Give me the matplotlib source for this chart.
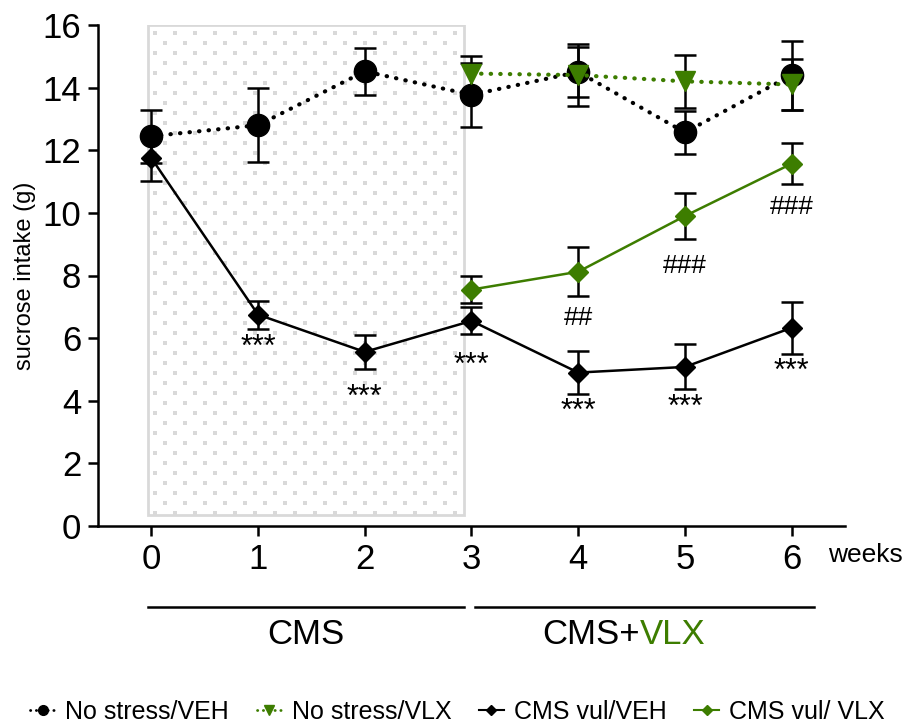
import matplotlib
matplotlib.use("Agg")
import matplotlib.pyplot as plt
from matplotlib.patches import Rectangle
from matplotlib.lines import Line2D
import numpy as np

plt.rcParams['font.family'] = ['Liberation Sans', 'DejaVu Sans']

GREEN = '#3d7d00'

weeks = [0, 1, 2, 3, 4, 5, 6]
weeks_vlx = [3, 4, 5, 6]

# No stress / VEH
ns_veh = [12.45, 12.8, 14.52, 13.77, 14.5, 12.57, 14.4]
ns_veh_sem = [0.85, 1.18, 0.76, 1.02, 0.8, 0.68, 1.1]
# No stress / VLX
ns_vlx = [14.45, 14.4, 14.2, 14.1]
ns_vlx_sem = [0.55, 1.0, 0.85, 0.8]
# CMS vulnerable / VEH
cms_veh = [11.75, 6.75, 5.56, 6.55, 4.9, 5.08, 6.33]
cms_veh_sem = [0.73, 0.45, 0.55, 0.43, 0.68, 0.72, 0.83]
# CMS vulnerable / VLX
cms_vlx = [7.55, 8.12, 9.9, 11.57]
cms_vlx_sem = [0.42, 0.78, 0.75, 0.65]

# significance marks
stars = [(1, 5.7), (2, 4.1), (3, 5.1), (4, 3.65), (5, 3.77), (6, 4.92)]
hashes = [(4, 6.65, '##'), (5, 8.3, '###'), (6, 10.2, '###')]

fig = plt.figure(figsize=(9.15, 7.24), dpi=100)
ax = fig.add_axes([98 / 915, 1 - 526 / 724, (845 - 98) / 915, (526 - 25) / 724])
ax.set_xlim(-0.5, 6.5)
ax.set_ylim(0, 16)

# CMS period box with dotted fill
box = Rectangle((-0.03, 0.35), 2.96, 15.65, facecolor='white', edgecolor='#d9d9d9',
                lw=2, zorder=0)
ax.add_patch(box)
# grid of small squares (20 px apart, rows 10 px apart, staggered)
x0, y0 = ax.transData.transform((-0.03, 0.35))
x1, y1 = ax.transData.transform((2.93, 16))
pts = []
for i, py in enumerate(np.arange(y1 - 8, y0, -10)):
    off = 0 if i % 2 == 0 else 10
    for px in np.arange(x0 + 7 + off, x1 - 3, 20):
        pts.append((px, py))
pts = ax.transData.inverted().transform(np.array(pts))
ax.scatter(pts[:, 0], pts[:, 1], marker='s', s=11, color='#d9d9d9', lw=0, zorder=0.5)

eb = dict(ecolor='black', elinewidth=1.8, capsize=8, capthick=1.8)

ax.errorbar(weeks, ns_veh, yerr=ns_veh_sem, color='black', ls=(0, (0.1, 2.2)), lw=3,
            dash_capstyle='round', marker='o', ms=16, mfc='black', mec='black', zorder=3, **eb)
ax.errorbar(weeks_vlx, ns_vlx, yerr=ns_vlx_sem, color=GREEN, ls=(0, (0.1, 2.2)), lw=3,
            dash_capstyle='round', marker='v', ms=15, mfc=GREEN, mec=GREEN, zorder=4, **eb)
ax.errorbar(weeks, cms_veh, yerr=cms_veh_sem, color='black', ls='-', lw=1.8,
            marker='D', ms=10, mfc='black', mec='black', zorder=3, **eb)
ax.errorbar(weeks_vlx, cms_vlx, yerr=cms_vlx_sem, color=GREEN, ls='-', lw=1.8,
            marker='D', ms=10, mfc=GREEN, mec=GREEN, zorder=4, **eb)

for x, y in stars:
    ax.text(x, y, '***', ha='center', va='center', fontsize=22)
for x, y, t in hashes:
    ax.text(x, y, t, ha='center', va='center', fontsize=19)

ax.set_xticks(weeks)
ax.set_yticks(np.arange(0, 17, 2))
ax.tick_params(labelsize=25, width=1.8, length=7, pad=5)
ax.spines['top'].set_visible(False)
ax.spines['right'].set_visible(False)
ax.spines['left'].set_linewidth(1.8)
ax.spines['bottom'].set_linewidth(1.8)
ax.set_ylabel('sucrose intake (g)', fontsize=17, labelpad=5)

ax.text(6.34, -0.93, 'weeks', fontsize=19, va='center', ha='left')

# treatment bars under the axis
ax.plot([-0.03, 2.93], [-2.59, -2.59], color='black', lw=1.8, clip_on=False)
ax.plot([3.03, 6.21], [-2.59, -2.59], color='black', lw=1.8, clip_on=False)
ax.text(1.45, -3.45, 'CMS', fontsize=25, ha='center', va='center')
ax.text(4.58, -3.45, 'CMS+', fontsize=25, ha='right', va='center')
ax.text(4.58, -3.45, 'VLX', fontsize=25, ha='left', va='center', color=GREEN)

handles = [
    Line2D([], [], color='black', ls=(0, (0.1, 2)), lw=2, dash_capstyle='round', marker='o', ms=7),
    Line2D([], [], color=GREEN, ls=(0, (0.1, 2)), lw=2, dash_capstyle='round', marker='v', ms=7),
    Line2D([], [], color='black', ls='-', lw=1.5, marker='D', ms=5),
    Line2D([], [], color=GREEN, ls='-', lw=1.5, marker='D', ms=5),
]
labels = ['No stress/VEH', 'No stress/VLX', 'CMS vul/VEH', 'CMS vul/ VLX']
fig.legend(handles, labels, loc='center', bbox_to_anchor=(0.5, 12 / 724),
           ncol=4, frameon=False, fontsize=18, handlelength=1.0, handletextpad=0.4,
           columnspacing=1.1, borderpad=0)

fig.savefig('out.png', dpi=100)
